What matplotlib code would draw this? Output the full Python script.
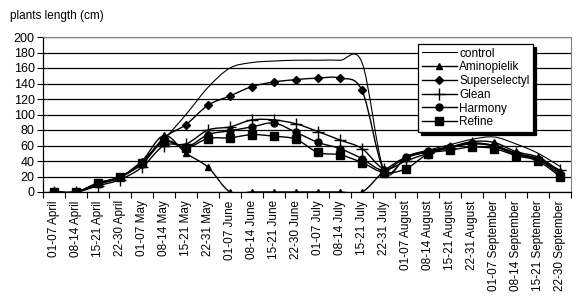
import numpy as np
import matplotlib
matplotlib.use('Agg')
import matplotlib.pyplot as plt
from matplotlib.path import Path
from matplotlib.patches import PathPatch
from matplotlib.lines import Line2D

plt.rcParams['font.family'] = ['Liberation Sans', 'DejaVu Sans']

categories = ['01-07 April', '08-14 April', '15-21 April', '22-30 April',
              '01-07 May', '08-14 May', '15-21 May', '22-31 May',
              '01-07 June', '08-14 June', '15-21 June', '22-30 June',
              '01-07 July', '08-14 July', '15-21 July', '22-31 July',
              '01-07 August', '08-14 August', '15-21 August', '22-31 August',
              '01-07 September', '08-14 September', '15-21 September',
              '22-30 September']

control = [0, 0, 10, 19, 40, 68, 100, 135, 160, 167, 169, 170,
           170, 170, 167, 28, 46, 54, 61, 68, 71, 62, 50, 33]
aminopielik = [0, 0, 10, 19, 40, 73, 50, 32, 0, 0, 0, 0,
               0, 0, 0, 27, 45, 52, 58, 65, 64, 52, 45, 27]
superselectyl = [0, 0, 11, 19, 38, 70, 87, 112, 124, 136, 142, 145,
                 147, 147, 131, 28, 44, 52, 58, 62, 60, 50, 43, 25]
glean = [0, 0, 8, 16, 32, 60, 62, 80, 84, 93, 93, 88,
         78, 67, 56, 30, 40, 50, 57, 63, 60, 50, 42, 28]
harmony = [0, 0, 11, 20, 36, 66, 58, 74, 79, 84, 89, 77,
           64, 56, 43, 28, 45, 53, 58, 63, 59, 48, 42, 22]
refine = [0, 0, 12, 19, 37, 65, 57, 69, 70, 74, 72, 68,
          51, 48, 38, 25, 30, 49, 54, 58, 56, 47, 40, 20]

series = [
    ('control', control, None, 0, 0.8),
    ('Aminopielik', aminopielik, '^', 5, 1.0),
    ('Superselectyl', superselectyl, 'D', 3.8, 1.0),
    ('Glean', glean, '+', 9, 1.0),
    ('Harmony', harmony, 'o', 5, 1.0),
    ('Refine', refine, 's', 5.5, 1.0),
]


def smooth_path(x, y, tension=1 / 6.):
    # Catmull-Rom as cubic bezier, like the smoothed lines of a spreadsheet
    x = np.asarray(x, float)
    y = np.asarray(y, float)
    n = len(x)
    verts = [(x[0], y[0])]
    codes = [Path.MOVETO]
    for i in range(n - 1):
        p0 = i - 1 if i > 0 else i
        p3 = i + 2 if i + 2 < n else i + 1
        c1 = (x[i] + (x[i + 1] - x[p0]) * tension,
              y[i] + (y[i + 1] - y[p0]) * tension)
        c2 = (x[i + 1] - (x[p3] - x[i]) * tension,
              y[i + 1] - (y[p3] - y[i]) * tension)
        verts += [c1, c2, (x[i + 1], y[i + 1])]
        codes += [Path.CURVE4] * 3
    return Path(verts, codes)


fig = plt.figure(figsize=(5.88, 3.01), dpi=100)
ax = fig.add_axes([43 / 588, 1 - 192 / 301, 528 / 588, 155 / 301])

xs = np.arange(len(categories))
handles = []
for name, vals, marker, ms, lw in series:
    ax.add_patch(PathPatch(smooth_path(xs, vals), fill=False,
                           edgecolor='black', linewidth=lw, zorder=3))
    if marker is not None:
        ax.plot(xs, vals, linestyle='none', marker=marker, markersize=ms,
                color='black', markeredgewidth=1.0, zorder=4)
    handles.append(Line2D([0], [0], color='black', lw=lw, marker=marker,
                          markersize=ms, label=name))

ax.set_xlim(-0.5, len(categories) - 0.5)
ax.set_ylim(0, 200)
ax.set_yticks(np.arange(0, 201, 20))
ax.yaxis.grid(True, color='black', linewidth=0.9)
ax.set_axisbelow(True)

ax.set_xticks(xs)
ax.set_xticklabels(categories, rotation=90, fontsize=8.5)
ax.set_xticks(np.arange(-0.5, len(categories), 1), minor=True)
ax.tick_params(axis='x', which='major', length=0, pad=6)
ax.tick_params(axis='x', which='minor', length=4, width=0.8)
ax.tick_params(axis='y', length=4, width=0.8, labelsize=9, pad=2)

ax.spines['top'].set_color('#808080')
ax.spines['right'].set_color('#808080')
ax.spines['left'].set_linewidth(0.9)
ax.spines['bottom'].set_linewidth(0.9)

fig.text(10 / 588, 1 - 16 / 301, 'plants length (cm)', fontsize=8.5,
         va='center', ha='left')

leg = ax.legend(handles=handles, loc='upper left',
                bbox_to_anchor=((418 - 43) / 528, (192 - 44) / 155),
                borderaxespad=0, fancybox=False, framealpha=1,
                edgecolor='black', fontsize=8.5, handlelength=3,
                labelspacing=0.15, borderpad=0.3, handletextpad=0.2,
                shadow={'color': 'black', 'alpha': 1})
leg.get_frame().set_linewidth(0.9)

fig.savefig('out.png', dpi=100)
